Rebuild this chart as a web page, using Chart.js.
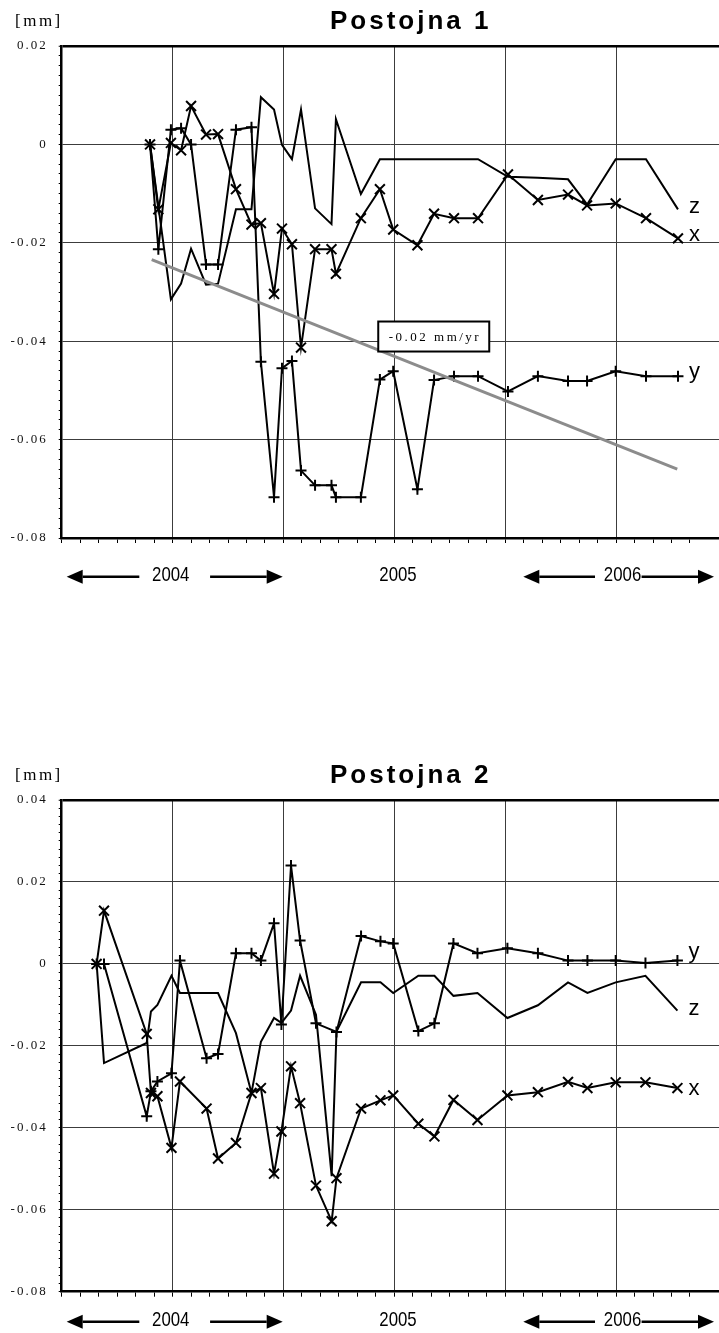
<!DOCTYPE html>
<html>
<head>
<meta charset="utf-8">
<script src="https://cdn.jsdelivr.net/npm/chart.js@4.4.1/dist/chart.umd.min.js"></script>
<style>
  html, body { margin: 0; padding: 0; background: #fff; overflow: hidden; }
  #page { position: relative; width: 719px; height: 1333px; }
  .chart-box { position: absolute; left: 0; width: 719px; }
</style>
</head>
<body>
<div id="page">
  <div class="chart-box" style="top:0px;height:600px"><canvas id="chart1" width="719" height="600"></canvas></div>
  <div class="chart-box" style="top:740px;height:593px"><canvas id="chart2" width="719" height="593"></canvas></div>
</div>
<script>
// x values are months counted from 1 Jan 2004
const dates1 = [4.78, 5.23, 5.91, 6.46, 7.00, 7.81, 8.46, 9.43, 10.27, 10.78, 11.49, 11.92, 12.46, 12.95, 13.71, 14.60, 14.84, 16.19, 17.22, 17.94, 19.25, 20.15, 21.23, 22.53, 24.15, 25.77, 27.40, 28.43, 29.98, 31.62, 33.35];
const x1 = [0, -0.0132, 0.0003, -0.0012, 0.0078, 0.002, 0.0021, -0.0091, -0.0163, -0.016, -0.0304, -0.0171, -0.0203, -0.0413, -0.0213, -0.0213, -0.0263, -0.015, -0.0091, -0.0173, -0.0205, -0.0141, -0.015, -0.015, -0.0061, -0.0113, -0.0102, -0.0124, -0.012, -0.015, -0.0191];
const y1 = [0, -0.0213, 0.003, 0.0033, 0, -0.0244, -0.0244, 0.003, 0.0035, -0.0442, -0.0717, -0.0455, -0.044, -0.0663, -0.0693, -0.0693, -0.0717, -0.0717, -0.0478, -0.0461, -0.0701, -0.0479, -0.0471, -0.0471, -0.0502, -0.0471, -0.0481, -0.0481, -0.0461, -0.0471, -0.0471];
const z1 = [0, null, -0.0315, -0.0283, -0.0212, -0.0285, -0.0283, -0.0132, -0.0132, 0.0096, 0.0071, -0.0001, -0.003, 0.0071, -0.013, -0.0162, 0.0051, -0.0101, -0.003, -0.003, -0.003, -0.003, -0.003, -0.003, -0.0066, -0.0068, -0.0071, -0.0122, -0.003, -0.003, -0.0132];
const trendDates1 = [4.87, 33.31];
const trendValues1 = [-0.0234, -0.066];

const dates2 = [1.89, 2.29, 4.60, 4.83, 5.18, 5.94, 6.40, 7.84, 8.46, 9.43, 10.27, 10.78, 11.49, 11.89, 12.41, 12.90, 13.76, 14.61, 14.87, 16.20, 17.25, 17.94, 19.30, 20.17, 21.20, 22.50, 24.12, 25.77, 27.40, 28.45, 29.98, 31.59, 33.32];
const x2 = [0, 0.013, -0.0171, -0.0315, -0.0323, -0.0449, -0.0287, -0.0353, -0.0475, -0.0437, -0.0315, -0.0303, -0.0512, -0.0409, -0.025, -0.034, -0.0541, -0.0628, -0.0523, -0.0353, -0.0333, -0.0321, -0.039, -0.0421, -0.0332, -0.0381, -0.0321, -0.0313, -0.0288, -0.0303, -0.0289, -0.0289, -0.0303];
const y2 = [0, 0, -0.0372, -0.0311, -0.0287, -0.0267, 0.0008, -0.023, -0.022, 0.0026, 0.0026, 0.0008, 0.0099, -0.0148, 0.024, 0.0057, -0.0145, null, -0.0166, 0.0068, 0.0055, 0.005, -0.0164, -0.0145, 0.005, 0.0026, 0.0038, 0.0026, 0.0008, 0.0008, 0.0008, 0.0002, 0.0008];
const z2 = [0, -0.0242, -0.0193, -0.0116, -0.01, -0.0029, -0.0071, -0.0071, -0.0071, -0.0169, -0.0315, -0.019, -0.0132, -0.0144, -0.0114, -0.0029, -0.0124, -0.0518, -0.0165, -0.0045, -0.0045, -0.0071, -0.0029, -0.0029, -0.0078, -0.0071, -0.0132, -0.0101, -0.0045, -0.0071, -0.0045, -0.0029, -0.0114];

const yTickValues1 = [0.02, 0, -0.02, -0.04, -0.06, -0.08];
const yTickLabels1 = ['0.02', '0', '-0.02', '-0.04', '-0.06', '-0.08'];
const yTickValues2 = [0.04, 0.02, 0, -0.02, -0.04, -0.06, -0.08];
const yTickLabels2 = ['0.04', '0.02', '0', '-0.02', '-0.04', '-0.06', '-0.08'];

const yearLabels = ['2004', '2005', '2006'];

const SERIF = '"Liberation Serif", "Times New Roman", serif';
const SANS = '"Liberation Sans", Arial, sans-serif';

function series(dates, values) {
    return dates.map((d, i) => ({ x: d, y: values[i] }));
}

function isMajor(v) {
    return Math.abs(v / 0.02 - Math.round(v / 0.02)) < 1e-6;
}

function drawArrow(ctx, xTail, xTip, y) {
    const dir = Math.sign(xTip - xTail);
    const head = 16, half = 7;
    ctx.beginPath();
    ctx.moveTo(xTail, y);
    ctx.lineTo(xTip - dir * head, y);
    ctx.lineWidth = 2.5;
    ctx.stroke();
    ctx.beginPath();
    ctx.moveTo(xTip, y);
    ctx.lineTo(xTip - dir * head, y - half);
    ctx.lineTo(xTip - dir * head, y + half);
    ctx.closePath();
    ctx.fill();
}

// titles, unit, end labels, slope note and the year row
const decor = {
    id: 'decor',
    beforeDraw(chart) { chart.ctx.letterSpacing = '2px'; },
    beforeDatasetsDraw(chart) { chart.ctx.letterSpacing = '0px'; },
    afterDraw(chart, args, opts) {
        const { ctx, chartArea, scales } = chart;
        ctx.save();
        ctx.fillStyle = '#000';
        ctx.strokeStyle = '#000';
        ctx.textAlign = 'left';
        ctx.textBaseline = 'alphabetic';

        ctx.font = '17px ' + SERIF;
        ctx.letterSpacing = '2.5px';
        ctx.fillText('[mm]', 15, chartArea.top - 20);

        ctx.font = 'bold 26px ' + SANS;
        ctx.letterSpacing = '3px';
        ctx.fillText(opts.title, 330, chartArea.top - 16.7);

        // series names at the end of each line
        ctx.letterSpacing = '0px';
        ctx.font = '22px ' + SANS;
        chart.data.datasets.forEach(ds => {
            if (!ds.endLabel) return;
            const pts = ds.data.filter(p => p.y !== null);
            const last = pts[pts.length - 1];
            const px = scales.x.getPixelForValue(last.x) + 11;
            const py = scales.y.getPixelForValue(last.y) + (ds.endLabelDy || 0);
            ctx.fillText(ds.endLabel, px, py);
        });

        // slope note
        if (opts.note) {
            const n = opts.note;
            const bx = scales.x.getPixelForValue(n.x);
            const by = scales.y.getPixelForValue(n.y);
            ctx.fillStyle = '#fff';
            ctx.fillRect(bx, by, n.w, n.h);
            ctx.lineWidth = 2;
            ctx.strokeRect(bx, by, n.w, n.h);
            ctx.fillStyle = '#000';
            ctx.font = '13px ' + SERIF;
            ctx.letterSpacing = '2.5px';
            ctx.textAlign = 'center';
            ctx.textBaseline = 'middle';
            ctx.fillText(n.text, bx + n.w / 2 + 1.2, by + n.h / 2 + 1);
        }

        // year row with arrows
        const yr = chartArea.bottom + opts.yearRow;
        ctx.letterSpacing = '0px';
        ctx.fillStyle = '#000';
        opts.arrows.forEach(a => {
            drawArrow(ctx, scales.x.getPixelForValue(a[0]), scales.x.getPixelForValue(a[1]), yr);
        });
        ctx.font = '21px ' + SANS;
        ctx.textAlign = 'center';
        ctx.textBaseline = 'middle';
        yearLabels.forEach((t, i) => {
            ctx.save();
            ctx.translate(scales.x.getPixelForValue(opts.yearAt[i]), yr - 1);
            ctx.scale(0.8, 1);
            ctx.fillText(t, 0, 0);
            ctx.restore();
        });
        ctx.restore();
    }
};

function makeChart(id, cfg) {
    const markers = { borderColor: '#000', borderWidth: 2, pointBorderColor: '#000', pointBorderWidth: 2, pointBackgroundColor: '#000', pointHoverRadius: 0 };
    const datasets = [];
    if (cfg.trend) {
        datasets.push({ data: series(cfg.trend[0], cfg.trend[1]), borderColor: '#8c8c8c', borderWidth: 3, pointRadius: 0 });
    }
    datasets.push(
        Object.assign({ data: series(cfg.dates, cfg.x), pointStyle: 'crossRot', pointRadius: 7, endLabel: 'x', endLabelDy: cfg.dy.x }, markers),
        Object.assign({ data: series(cfg.dates, cfg.y), pointStyle: 'cross', pointRadius: 5.5, endLabel: 'y', endLabelDy: cfg.dy.y }, markers),
        Object.assign({ data: series(cfg.dates, cfg.z), pointRadius: 0, endLabel: 'z', endLabelDy: cfg.dy.z }, markers)
    );

    return new Chart(document.getElementById(id), {
        type: 'line',
        data: { datasets: datasets },
        plugins: [decor],
        options: {
            responsive: false,
            animation: false,
            devicePixelRatio: 1,
            spanGaps: true,
            events: [],
            layout: { autoPadding: false, padding: { top: cfg.top, bottom: cfg.bottom, left: 0, right: 0 } },
            elements: { line: { tension: 0 } },
            plugins: {
                legend: { display: false },
                tooltip: { enabled: false },
                decor: {
                    title: cfg.title,
                    note: cfg.note,
                    yearRow: cfg.yearRow,
                    yearAt: [5.9, 18.2, 30.35],
                    arrows: [[4.2, 0.27], [8.03, 11.96], [28.86, 24.98], [31.38, 35.3]]
                }
            },
            scales: {
                x: {
                    type: 'linear',
                    min: 0,
                    max: 35.57,
                    afterFit(s) { s.height = 0; },
                    ticks: { display: false, stepSize: 1, maxTicksLimit: 100, autoSkip: false },
                    grid: {
                        color: c => (c.tick && c.tick.value > 0 && Math.abs(c.tick.value % 6) < 1e-6) ? '#3c3c3c' : 'rgba(0,0,0,0)',
                        lineWidth: 1,
                        tickColor: '#000',
                        tickWidth: 1,
                        tickLength: 5
                    },
                    border: { color: '#000', width: 2.5 }
                },
                y: {
                    type: 'linear',
                    min: cfg.yMin,
                    max: cfg.yMax,
                    afterFit(s) { s.width = 61.7; },
                    ticks: {
                        stepSize: 0.002,
                        maxTicksLimit: 100,
                        autoSkip: false,
                        padding: 11,
                        color: '#111',
                        font: { family: SERIF, size: 13 },
                        callback: v => {
                            const i = cfg.tickValues.findIndex(t => Math.abs(t - v) < 1e-9);
                            return i >= 0 ? cfg.tickLabels[i] : '';
                        }
                    },
                    grid: {
                        color: c => {
                            if (!c.tick) return 'rgba(0,0,0,0)';
                            const v = c.tick.value;
                            if (Math.abs(v - cfg.yMax) < 1e-9) return '#000';
                            if (Math.abs(v - cfg.yMin) < 1e-9) return 'rgba(0,0,0,0)';
                            return isMajor(v) ? '#3c3c3c' : 'rgba(0,0,0,0)';
                        },
                        lineWidth: c => (c.tick && Math.abs(c.tick.value - cfg.yMax) < 1e-9) ? 2.5 : 1,
                        tickColor: '#000',
                        tickWidth: 1,
                        tickLength: 3
                    },
                    border: { color: '#000', width: 2.5 }
                }
            }
        }
    });
}

makeChart('chart1', {
    title: 'Postojna 1',
    dates: dates1, x: x1, y: y1, z: z1,
    trend: [trendDates1, trendValues1],
    note: { text: '-0.02 mm/yr', x: 17.13, y: -0.036, w: 111, h: 30 },
    dy: { x: 3, y: 2, z: 4 },
    yMin: -0.08, yMax: 0.02,
    tickValues: yTickValues1, tickLabels: yTickLabels1,
    top: 46, bottom: 62, yearRow: 38.7
});

makeChart('chart2', {
    title: 'Postojna 2',
    dates: dates2, x: x2, y: y2, z: z2,
    dy: { x: 7, y: -3, z: 4 },
    yMin: -0.08, yMax: 0.04,
    tickValues: yTickValues2, tickLabels: yTickLabels2,
    top: 60, bottom: 41.3, yearRow: 30
});
</script>
</body>
</html>
